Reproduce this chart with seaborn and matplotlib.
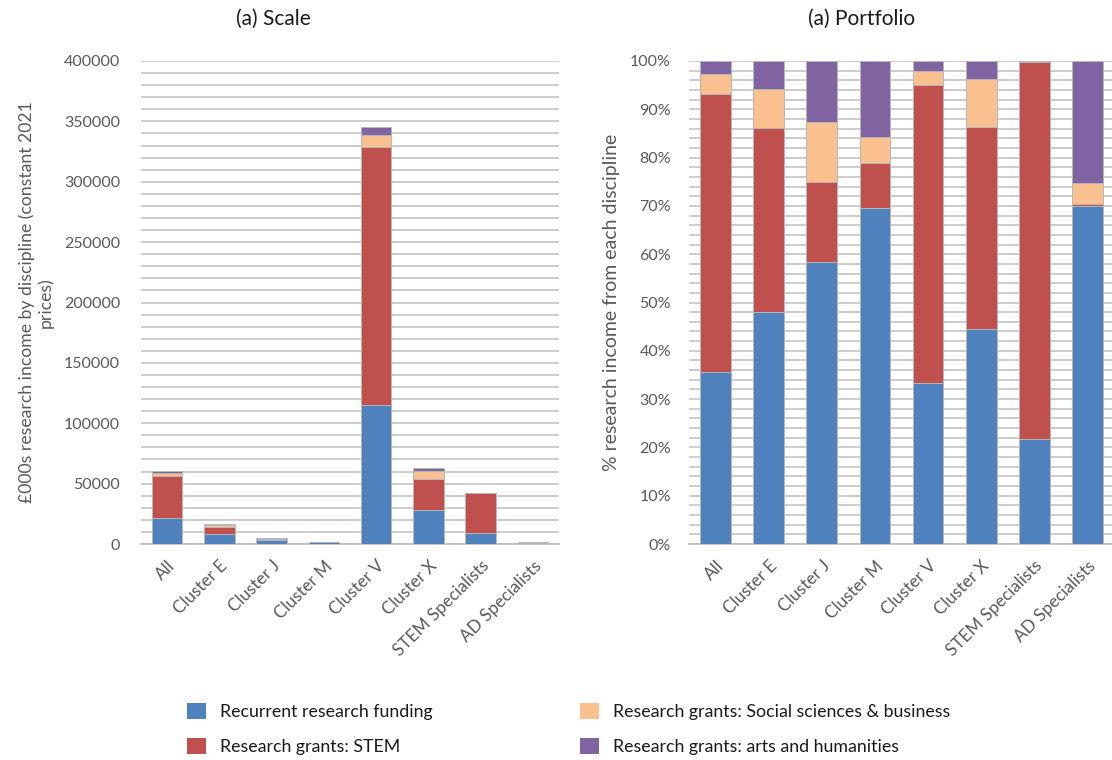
import numpy as np
import pandas as pd
import matplotlib
matplotlib.use("Agg")
import matplotlib.pyplot as plt
from matplotlib.ticker import MultipleLocator, FuncFormatter
from matplotlib.patches import Patch
import seaborn as sns

# Research income by cluster (£000s, constant 2021 prices)
clusters = ["All", "Cluster E", "Cluster J", "Cluster M", "Cluster V",
            "Cluster X", "STEM Specialists", "AD Specialists"]
recurrent = [21540, 7970, 2920, 1320, 115430, 27900, 9110, 1190]
grants_stem = [34850, 6320, 830, 180, 213240, 26270, 32840, 5]
grants_socsci = [2540, 1340, 620, 100, 9680, 6210, 40, 75]
grants_arts = [1570, 960, 630, 300, 7260, 2320, 10, 430]

series_names = ["Recurrent research funding",
                "Research grants: STEM",
                "Research grants: Social sciences & business",
                "Research grants: arts and humanities"]
series_colors = ["#4F81BD", "#C0504D", "#FAC090", "#8064A2"]

sns.set_theme(style="white")
plt.rcParams["font.family"] = ["Lato", "DejaVu Sans"]

values = np.array([recurrent, grants_stem, grants_socsci, grants_arts], dtype=float)
shares = values / values.sum(axis=0) * 100

GRID = "#BEBEBE"
TEXT_GREY = "#595959"
EDGE = "#B8B8B8"

fig = plt.figure(figsize=(11.12, 7.6), dpi=100)
ax_l = fig.add_axes([141 / 1112, 1 - 544 / 760, (559 - 141) / 1112, (544 - 61) / 760])
ax_r = fig.add_axes([689 / 1112, 1 - 544 / 760, (1114 - 689) / 1112, (544 - 61) / 760])


def stacked(ax, data):
    cum = np.cumsum(data, axis=0)
    # draw cumulative totals back to front so each layer shows its own segment
    for i in range(len(series_names) - 1, -1, -1):
        df = pd.DataFrame({"cluster": clusters, "value": cum[i]})
        sns.barplot(data=df, x="cluster", y="value", color=series_colors[i],
                    saturation=1, width=0.58, edgecolor=EDGE, linewidth=0.7,
                    ax=ax, zorder=3)


stacked(ax_l, values)
stacked(ax_r, shares)

for ax in (ax_l, ax_r):
    ax.set_axisbelow(True)
    ax.grid(False)
    ax.yaxis.grid(True, which="both", color=GRID, linewidth=1.1, zorder=0)
    for side in ("left", "right", "top"):
        ax.spines[side].set_visible(False)
    ax.spines["bottom"].set_color(GRID)
    ax.spines["bottom"].set_linewidth(1.3)
    ax.tick_params(axis="both", which="both", length=0, colors=TEXT_GREY)
    ax.tick_params(axis="y", labelsize=11.5)
    ax.tick_params(axis="x", labelsize=12.3, pad=10)
    ax.set_xlim(-0.5, len(clusters) - 0.5)
    ax.set_xlabel("")
    plt.setp(ax.get_xticklabels(), rotation=45, ha="right",
             rotation_mode="anchor")

ax_l.set_ylim(0, 400000)
ax_l.yaxis.set_major_locator(MultipleLocator(50000))
ax_l.yaxis.set_minor_locator(MultipleLocator(10000))
ax_l.yaxis.set_major_formatter(FuncFormatter(lambda v, p: f"{v:.0f}"))
ax_l.tick_params(axis="y", pad=15)
ax_l.set_ylabel("£000s research income by discipline (constant 2021\nprices)",
                color=TEXT_GREY, fontsize=12.7, labelpad=7, linespacing=1.2)

ax_r.set_ylim(0, 100)
ax_r.yaxis.set_major_locator(MultipleLocator(10))
ax_r.yaxis.set_minor_locator(MultipleLocator(2))
ax_r.yaxis.set_major_formatter(FuncFormatter(lambda v, p: f"{v:.0f}%"))
ax_r.tick_params(axis="y", pad=13)
ax_r.set_ylabel("% research income from each discipline",
                color=TEXT_GREY, fontsize=14, labelpad=7)

fig.text(273 / 1112, 1 - 19 / 760, "(a) Scale", ha="center", va="center",
         fontsize=15, color="#1a1a1a")
fig.text(862 / 1112, 1 - 19 / 760, "(a) Portfolio", ha="center", va="center",
         fontsize=15, color="#1a1a1a")

handles = [Patch(facecolor=c, edgecolor="none") for c in series_colors]
fig.legend(handles, series_names, ncol=2, frameon=False,
           loc="upper left", bbox_to_anchor=(178 / 1112, 1 - 694 / 760),
           fontsize=12.8, handlelength=1.05, handleheight=1.05,
           handletextpad=0.8, columnspacing=8.3, labelspacing=0.98,
           borderpad=0, labelcolor="#1a1a1a")

fig.savefig("out.png", dpi=100)
